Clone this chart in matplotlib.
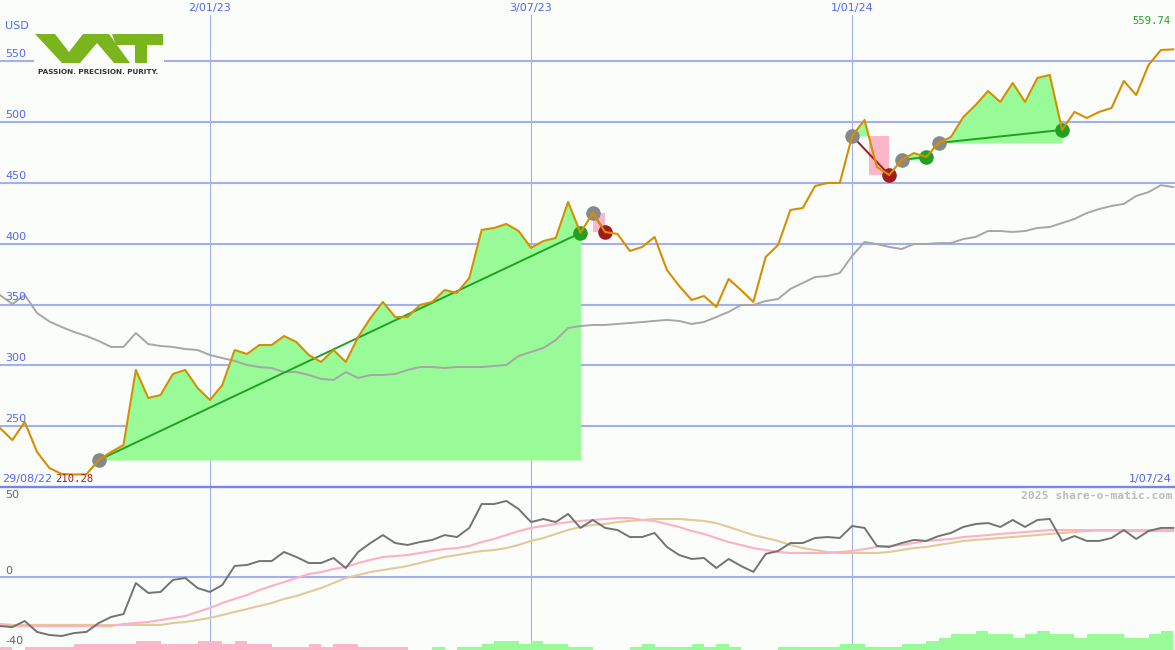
import numpy as np
import pandas as pd
import matplotlib
matplotlib.use("Agg")
import matplotlib.pyplot as plt
import matplotlib.dates as mdates
from matplotlib.patches import Polygon, Rectangle

# ---------------- data ----------------
dates = pd.date_range("2022-09-05", periods=96, freq="7D")

price = [248.5, 238.6, 253.4, 228.8, 215.6, 210.7, 210.28, 210.5, 222.2, 228.8,
         234.5, 296.2, 273.2, 275.6, 292.9, 296.2, 281.4, 271.5, 283.8, 312.6,
         309.3, 316.7, 316.7, 324.1, 319.2, 308.5, 302.8, 312.6, 302.8, 323.3,
         338.9, 352.1, 339.7, 339.7, 349.6, 352.1, 361.9, 359.5, 371.8, 411.3,
         412.9, 416.2, 410.4, 396.5, 402.2, 404.7, 434.3, 408.8, 425.2, 409.6,
         408.0, 394.0, 397.3, 405.5, 378.4, 365.2, 353.7, 357.0, 348.0, 371.0,
         361.9, 352.1, 389.1, 398.9, 427.7, 429.3, 447.4, 449.9, 449.9, 488.5,
         501.7, 463.0, 456.5, 468.8, 474.5, 471.3, 482.8, 487.7, 504.1, 514.0,
         525.5, 516.5, 532.1, 516.5, 536.2, 538.7, 493.5, 508.3, 503.3, 508.3,
         511.5, 533.7, 522.2, 546.9, 559.2, 559.74]

price_ma = [357.8, 350.4, 357.8, 343.0, 336.0, 331.5, 327.4, 324.1, 320.0, 315.1,
            315.1, 326.6, 317.5, 315.9, 315.1, 313.4, 312.6, 308.5, 306.0, 303.6,
            300.3, 298.6, 297.8, 294.5, 294.5, 292.1, 288.8, 288.0, 294.5, 289.6,
            292.1, 292.1, 292.9, 296.2, 298.6, 298.6, 297.8, 298.6, 298.6, 298.6,
            299.5, 300.3, 307.7, 311.0, 314.3, 320.8, 330.7, 332.3, 333.2, 333.2,
            334.0, 334.8, 335.6, 336.5, 337.3, 336.5, 334.0, 335.6, 339.7, 343.9,
            349.6, 349.6, 352.9, 354.5, 362.8, 367.7, 372.6, 373.4, 375.9, 389.9,
            401.4, 399.7, 397.3, 395.6, 399.7, 399.7, 400.5, 400.5, 403.8, 405.5,
            410.4, 410.4, 409.6, 410.4, 412.9, 413.7, 417.0, 420.3, 425.2, 428.5,
            431.0, 432.7, 439.2, 442.4, 448.1, 446.5]

momentum = [-30.2, -30.8, -27.1, -33.8, -35.7, -36.3, -34.5, -33.8, -28.3, -24.6,
            -22.8, -3.7, -9.8, -9.2, -1.8, -0.6, -6.8, -9.2, -4.9, 6.8,
            7.4, 9.8, 9.8, 15.4, 12.3, 8.6, 8.6, 11.7, 5.5, 15.4,
            20.9, 25.8, 20.9, 19.7, 21.5, 22.8, 25.8, 24.6, 30.2, 44.9,
            44.9, 46.8, 41.8, 33.8, 35.7, 33.8, 38.8, 30.2, 35.1, 30.2,
            28.9, 24.6, 24.6, 27.1, 18.5, 13.5, 11.1, 11.7, 5.5, 11.1,
            6.8, 3.1, 14.2, 16.0, 20.9, 20.9, 24.0, 24.6, 24.0, 31.4,
            30.2, 19.1, 18.5, 20.9, 22.8, 22.2, 25.2, 27.1, 30.8, 32.6,
            33.2, 30.8, 35.1, 30.8, 35.1, 35.7, 22.2, 25.2, 22.2, 22.2,
            24.0, 28.9, 23.4, 28.3, 30.2, 30.2]

mom_fast = [-29.5, -30.2, -30.2, -30.2, -30.2, -30.2, -30.2, -30.2, -30.2, -30.2,
            -28.9, -28.3, -27.7, -26.5, -25.2, -24.0, -21.5, -19.1, -16.0, -13.5,
            -11.1, -8.0, -5.5, -3.1, -0.6, 1.8, 3.1, 4.9, 6.2, 8.6,
            10.5, 12.3, 12.9, 13.5, 14.8, 16.0, 17.2, 17.8, 19.1, 21.5,
            23.4, 25.8, 28.3, 30.2, 31.4, 32.6, 33.8, 34.5, 35.1, 35.7,
            36.3, 36.3, 35.1, 34.5, 32.6, 30.8, 28.3, 26.5, 24.0, 21.5,
            19.7, 17.8, 16.6, 15.4, 14.8, 14.8, 14.8, 14.8, 15.4, 16.0,
            17.2, 18.5, 19.1, 19.7, 20.9, 22.2, 22.8, 23.4, 24.6, 25.2,
            25.8, 26.5, 27.1, 27.7, 28.3, 28.9, 28.9, 28.9, 28.9, 28.6,
            28.6, 28.3, 28.3, 28.3, 28.3, 28.3]

mom_slow = [-28.9, -29.5, -29.5, -29.5, -29.5, -29.5, -29.5, -29.5, -29.5, -29.5,
            -29.5, -29.5, -29.5, -29.5, -28.3, -27.7, -26.5, -25.2, -23.4, -21.5,
            -19.7, -17.8, -16.0, -13.5, -11.7, -9.2, -6.8, -3.7, -0.6, 1.2,
            3.1, 4.3, 5.5, 6.8, 8.6, 10.5, 12.3, 13.5, 14.8, 16.0,
            16.6, 17.8, 19.7, 22.2, 24.0, 26.5, 28.9, 30.8, 32.0, 32.6,
            33.8, 34.5, 35.1, 35.7, 35.7, 35.7, 35.1, 34.5, 33.2, 30.8,
            28.3, 25.8, 24.0, 22.2, 19.7, 17.8, 16.6, 15.4, 14.8, 14.8,
            14.8, 14.8, 15.4, 16.6, 17.8, 18.5, 19.7, 20.9, 22.2, 22.8,
            23.4, 24.0, 24.6, 25.2, 25.8, 26.5, 27.1, 27.7, 28.3, 28.9,
            28.9, 28.9, 28.9, 28.9, 28.9, 28.9]

hist = [-1.8, 0.0, -1.8, -1.8, -1.8, -1.8, -3.7, -3.7, -3.7, -3.7,
        -3.7, -5.5, -5.5, -3.7, -3.7, -3.7, -5.5, -5.5, -3.7, -5.5,
        -3.7, -3.7, -1.8, -1.8, -1.8, -3.7, -1.8, -3.7, -3.7, -1.8,
        -1.8, -1.8, -1.8, 0.0, 0.0, 1.8, 0.0, 1.8, 1.8, 3.7,
        5.5, 5.5, 3.7, 5.5, 3.7, 3.7, 1.8, 1.8, 0.0, 0.0,
        0.0, 1.8, 3.7, 1.8, 1.8, 1.8, 3.7, 1.8, 3.7, 1.8,
        0.0, 0.0, 0.0, 1.8, 1.8, 1.8, 1.8, 1.8, 3.7, 3.7,
        1.8, 1.8, 1.8, 3.7, 3.7, 5.5, 7.4, 9.8, 9.8, 11.7,
        9.8, 9.8, 7.4, 9.8, 11.7, 9.8, 9.8, 7.4, 9.8, 9.8,
        9.8, 7.4, 7.4, 9.8, 11.7]

trade_entry = [8, 48, 69, 73, 76]
trade_exit = [47, 49, 72, 75, 86]

price_ticks = [250, 300, 350, 400, 450, 500, 550]
osc_ticks = [50, 0, -40]
vline_dates = ["2023-01-02", "2023-07-03", "2024-01-01"]
vline_labels = ["2/01/23", "3/07/23", "1/01/24"]
start_label = "29/08/22"
end_label = "1/07/24"
min_label = "210.28"
last_label = "559.74"
credit = "2025 share-o-matic.com"

# ---------------- style ----------------
W, H = 1175, 650
BG = "#fbfdfb"
GRID = "#a3b0f0"
SEP = "#7686ee"
BLUE_TXT = "#5566f2"
ORANGE = "#d58f00"
GRAYLINE = "#a6a6a6"
FILL_G = "#98fb98"
FILL_P = "#ffb6c8"
GREEN = "#22a022"
RED = "#a41a1a"

def fx(px):
    return px / W

def fy(py):
    return 1 - py / H

fig = plt.figure(figsize=(W / 100, H / 100), dpi=100, facecolor=BG)
split = 487
ax = fig.add_axes([0, fy(split), 1, split / H])
ax2 = fig.add_axes([0, 0, 1, (H - split) / H])
for a in (ax, ax2):
    a.set_facecolor(BG)
    a.set_axis_off()

x = mdates.date2num(dates)
x0 = x[0]
xspan = W / 12.35 * 7  # days visible
ax.set_xlim(x0, x0 + xspan)
ax2.set_xlim(x0, x0 + xspan)
ax.set_ylim(200, 200 + split * 50 / 60.83)
ax2.set_ylim(-(H - 577) / 1.625, (577 - split) / 1.625)

p = np.array(price)

# grid lines
for v in price_ticks:
    ax.axhline(v, color=GRID, lw=1.5, zorder=0)
for d in vline_dates:
    dn = mdates.date2num(pd.Timestamp(d))
    ax.axvline(dn, ymin=0, ymax=(split - 15) / split, color=GRID, lw=0.8, zorder=0)
    ax2.axvline(dn, color=GRID, lw=0.8, zorder=0)
ax2.axhline(0, color=GRID, lw=1.5, zorder=0)
fig.add_artist(plt.Line2D([0, 1], [fy(split), fy(split)], color=SEP, lw=1.7, zorder=10))

# trades
for e, xi in zip(trade_entry, trade_exit):
    ep, xp = p[e], p[xi]
    seg_x = x[e:xi + 1]
    seg_p = p[e:xi + 1]
    ax.fill_between(seg_x, seg_p, ep, where=seg_p >= ep, interpolate=True,
                    color=FILL_G, lw=0, zorder=1)
    win = xp >= ep
    if not win:
        j = e + 1
        while p[j] >= ep:
            j += 1
        frac = (p[j - 1] - ep) / (p[j - 1] - p[j])
        xc = x[j - 1] + frac * (x[j] - x[j - 1])
        ax.add_patch(Rectangle((xc, xp), x[xi] - xc, ep - xp, color=FILL_P, lw=0, zorder=1))
    ax.plot([x[e], x[xi]], [ep, xp], color=GREEN if win else RED, lw=1.4, zorder=4)
    ax.scatter([x[e]], [ep], s=110, color="#888888", zorder=5, lw=0)
    ax.scatter([x[xi]], [xp], s=110, color=GREEN if win else RED, zorder=5, lw=0)

ax.plot(x, price_ma, color=GRAYLINE, lw=1.4, zorder=2)
ax.plot(x, p, color=ORANGE, lw=1.5, zorder=6)

# lower panel
hv = np.array(hist)
bottom = ax2.get_ylim()[0]
ax2.bar(x[:len(hv)], np.abs(hv), width=7, align="edge", bottom=bottom,
        color=[FILL_G if h > 0 else FILL_P for h in hv], lw=0, zorder=1)
ax2.plot(x, mom_slow, color="#e2c99a", lw=1.5, zorder=2)
ax2.plot(x, mom_fast, color="#ffb0c4", lw=1.5, zorder=3)
ax2.plot(x, momentum, color="#737373", lw=1.4, zorder=4)

# labels
fs = 8
fig.text(fx(5), fy(26), "USD", color=BLUE_TXT, fontsize=fs, va="center", ha="left")
for v in price_ticks:
    ax.annotate(str(v), xy=(5 / W, v), xycoords=("axes fraction", "data"),
                xytext=(0, 1.5), textcoords="offset points", color=BLUE_TXT,
                fontsize=fs, va="bottom", ha="left", zorder=12)
for d, lab in zip(vline_dates, vline_labels):
    dn = mdates.date2num(pd.Timestamp(d))
    ax.annotate(lab, xy=(dn, 1), xycoords=("data", "axes fraction"),
                xytext=(0, -8), textcoords="offset pixels", color=BLUE_TXT,
                fontsize=fs, va="center", ha="center")
fig.text(fx(2), fy(479), start_label, color=BLUE_TXT, fontsize=fs, va="center", ha="left")
fig.text(fx(1172), fy(479), end_label, color=BLUE_TXT, fontsize=fs, va="center", ha="right")
fig.text(fx(55), fy(479), min_label, color=RED, fontsize=7.6, family="DejaVu Sans Mono",
         va="center", ha="left")
fig.text(fx(1171), fy(21), last_label, color=GREEN, fontsize=7.6, family="DejaVu Sans Mono",
         va="center", ha="right")
fig.text(fx(1172), fy(496), credit, color="#bcbcbc", fontsize=8.2, family="DejaVu Sans Mono",
         fontweight="bold", va="center", ha="right")
osc_px = {50: 495, 0: 571, -40: 641}
for v in osc_ticks:
    fig.text(fx(5), fy(osc_px[v]), str(v), color="#666666", fontsize=fs, va="center", ha="left")

# logo
LOGO = "#7ab51d"
def poly(pts, **kw):
    fig.add_artist(Polygon([(fx(a), fy(b)) for a, b in pts], closed=True,
                           transform=fig.transFigure, **kw))
poly([(34, 31), (164, 31), (164, 80), (34, 80)], color=BG, lw=0, zorder=11)
poly([(35, 34), (55, 34), (69, 52), (83, 34), (109, 34), (130, 63), (114, 63),
      (97, 43), (80, 63), (62, 63)], color=LOGO, lw=0, zorder=12)
poly([(112, 34), (163, 34), (163, 45), (147, 45), (147, 63), (135, 63), (135, 45),
      (116, 45)], color=LOGO, lw=0, zorder=12)
fig.text(fx(38), fy(72), "PASSION. PRECISION. PURITY.", color="#333333", fontsize=5.2,
         fontweight="bold", va="center", ha="left", zorder=13)

fig.savefig("out.png", dpi=100, facecolor=BG)
